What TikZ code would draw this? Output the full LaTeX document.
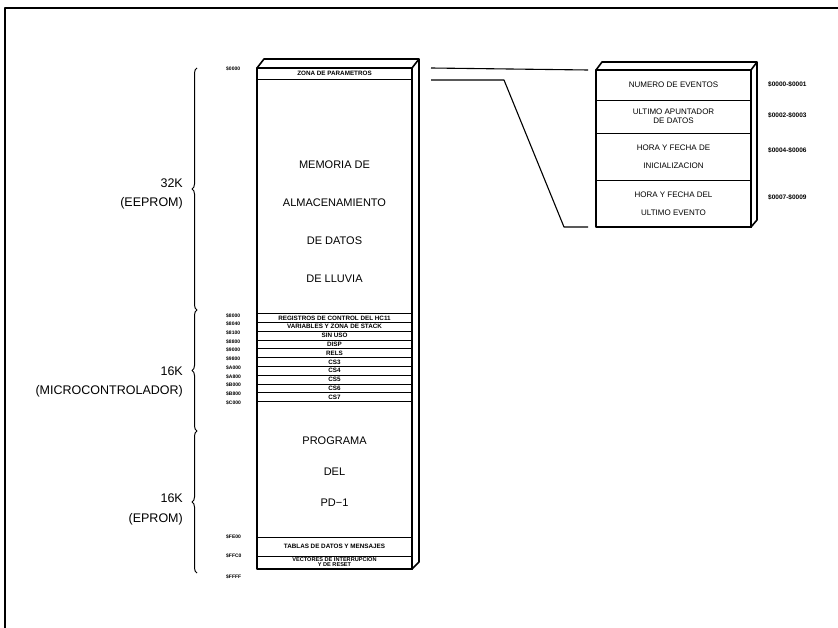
\documentclass[tikz,border=0pt]{standalone}
\usepackage{fontspec}
\setmainfont{Liberation Sans}
\usetikzlibrary{positioning,decorations.pathreplacing,calc}

\begin{document}
\begin{tikzpicture}[x=1pt,y=-1pt,line join=round]
\tikzset{
  caja/.style={line width=1.6pt},
  fila/.style={draw,line width=0.8pt,minimum width=155pt,minimum height=8.8pt,inner sep=0pt,align=center,font=\fontsize{6.3}{5.5}\selectfont\bfseries},
  dir/.style={anchor=west,inner sep=0pt,font=\fontsize{5}{5}\selectfont\bfseries},
  grande/.style={inner sep=0pt,font=\fontsize{11}{13}\selectfont},
  lado/.style={anchor=east,inner sep=0pt,font=\fontsize{12.5}{14}\selectfont},
  llave/.style={decorate,decoration={brace,amplitude=5pt},line width=1pt},
  celda/.style={draw,line width=0.8pt,minimum width=155pt,inner sep=0pt,align=center,font=\fontsize{8}{11}\selectfont},
  rango/.style={anchor=west,inner sep=0pt,font=\fontsize{6.5}{6}\selectfont\bfseries},
  enlace/.style={line width=1.1pt}
}
\useasboundingbox (0,0) rectangle (838,628);
\clip (0,0) rectangle (838,628);
\draw[line width=1.5pt] (5,640) -- (5,8) -- (850,8);

% memory map
\draw[caja] (257,68) rectangle (412,569);
\draw[caja] (257,68) -- (264,59) -- (419,59) -- (412,68);
\draw[caja] (419,59) -- (419,562) -- (412,569);
\node[fila,minimum height=11pt] (zona) at (334.5,73.5) {ZONA DE PARAMETROS};
\node[grande] (m1) at (334.5,165) {MEMORIA DE};
\node[grande] (m2) at (334.5,203) {ALMACENAMIENTO};
\node[grande] (m3) at (334.5,241) {DE DATOS};
\node[grande] (m4) at (334.5,279) {DE LLUVIA};
\foreach \txt [count=\i from 0] in {REGISTROS DE CONTROL DEL HC11,VARIABLES Y ZONA DE STACK,SIN USO,DISP,RELS,CS3,CS4,CS5,CS6,CS7}
  \node[fila] (r\i) at (334.5,{318+8.8*\i}) {\txt};
\node[grande] (p1) at (334.5,441) {PROGRAMA};
\node[grande] (p2) at (334.5,472) {DEL};
\node[grande] (p3) at (334.5,503) {PD−1};
\node[fila,minimum height=19pt] (tablas) at (334.5,546.5) {TABLAS DE DATOS Y MENSAJES};
\node[fila,minimum height=13pt,font=\fontsize{5.6}{5}\selectfont\bfseries] (vect) at (334.5,562.5) {VECTORES DE INTERRUPCION\\Y DE RESET};

\node[dir] (d0) at (226,69) {\$0000};
\foreach \d [count=\i from 0] in {\$8000,\$8040,\$8100,\$8800,\$9000,\$9800,\$A000,\$A800,\$B000,\$B800,\$C000}
  \node[dir] (a\i) at (226,{315.5+8.7*\i}) {\d};
\node[dir] (d1) at (226,537) {\$FE00};
\node[dir] (d2) at (226,556) {\$FFC0};
\node[dir] (d3) at (226,577) {\$FFFF};

% braces
\draw[llave] (197,310) -- (197,68);
\draw[llave] (197,431) -- (197,310);
\draw[llave] (197,573) -- (197,431);
\node[lado] (k1) at (183,183) {32K};
\node[lado] (k1b) at (183,203) {(EEPROM)};
\node[lado] (k2) at (183,371) {16K};
\node[lado] (k2b) at (183,391) {(MICROCONTROLADOR)};
\node[lado] (k3) at (183,498) {16K};
\node[lado] (k3b) at (183,519) {(EPROM)};

% parameter zone detail
\draw[caja] (596,70) rectangle (751,227);
\draw[caja] (596,70) -- (602,62) -- (757,62) -- (751,70);
\draw[caja] (757,62) -- (757,220) -- (751,227);
\node[celda,minimum height=30pt] (ev) at (673.5,85) {NUMERO DE EVENTOS};
\node[celda,minimum height=33pt] (ap) at (673.5,116.5) {ULTIMO APUNTADOR\\[-2pt]DE DATOS};
\node[celda,minimum height=47pt,font=\fontsize{8}{18}\selectfont] (ini) at (673.5,156.5) {HORA Y FECHA DE\\INICIALIZACION};
\node[celda,minimum height=47pt,font=\fontsize{8}{18}\selectfont] (ult) at (673.5,203.5) {HORA Y FECHA DEL\\ULTIMO EVENTO};
\node[rango] (g1) at (768,84) {\$0000-\$0001};
\node[rango] (g2) at (768,115) {\$0002-\$0003};
\node[rango] (g3) at (768,150) {\$0004-\$0006};
\node[rango] (g4) at (768,197) {\$0007-\$0009};

\coordinate (zA) at (431,68);
\coordinate (zB) at (431,80);
\coordinate (qA) at (588,70);
\coordinate (qB) at (588,227);
\draw[enlace] (zA) -- (qA);
\draw[enlace] (zB) -- (504,80) -- (564,227) -- (qB);
\end{tikzpicture}
\end{document}
